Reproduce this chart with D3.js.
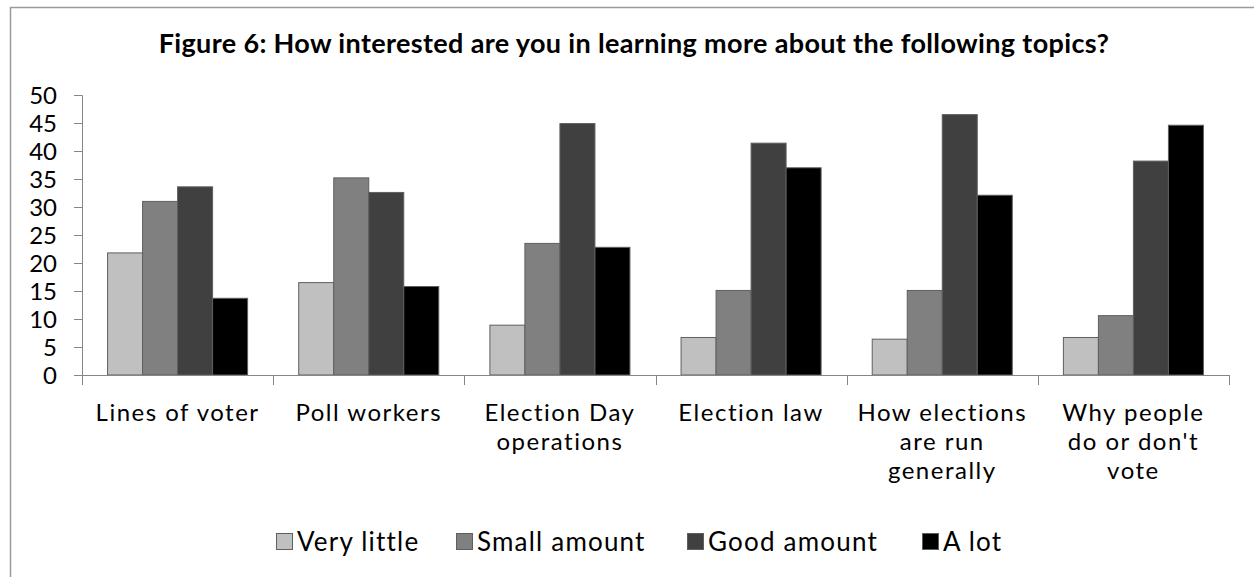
<!DOCTYPE html>
<html>
<head>
<meta charset="utf-8">
<script src="https://cdn.jsdelivr.net/npm/d3@7"></script>
<style>
  html, body { margin: 0; padding: 0; background: #fff; }
  svg { display: block; }
  text { font-family: Lato, "Open Sans", sans-serif; fill: #000; }
</style>
</head>
<body>
<svg id="chart" width="1254" height="577"></svg>
<script>
// Survey topics (x categories)
const categories = [
  ["Lines of voter"],
  ["Poll workers"],
  ["Election Day", "operations"],
  ["Election law"],
  ["How elections", "are run", "generally"],
  ["Why people", "do or don't", "vote"]
];
// Response levels (series)
const seriesNames = ["Very little", "Small amount", "Good amount", "A lot"];
const seriesColors = ["#c0c0c0", "#808080", "#404040", "#000000"];
// Percent of respondents per topic, one array per response level
const veryLittle  = [21.8, 16.5, 8.9, 6.7, 6.4, 6.7];
const smallAmount = [31.0, 35.2, 23.5, 15.1, 15.1, 10.6];
const goodAmount  = [33.6, 32.6, 44.9, 41.4, 46.5, 38.2];
const aLot        = [13.7, 15.8, 22.8, 37.0, 32.1, 44.6];
const yTicks = [0, 5, 10, 15, 20, 25, 30, 35, 40, 45, 50];
const titleText = "Figure 6: How interested are you in learning more about the following topics?";

const seriesValues = [veryLittle, smallAmount, goodAmount, aLot];

const svg = d3.select("#chart");

// chart frame
svg.append("rect")
  .attr("x", 10.5).attr("y", 7.5)
  .attr("width", 1400).attr("height", 700)
  .attr("fill", "none")
  .attr("stroke", "#9a9a9a")
  .attr("stroke-width", 1.5);

// title
svg.append("text")
  .attr("x", 634).attr("y", 53)
  .attr("text-anchor", "middle")
  .style("font-size", "27px")
  .style("font-weight", "bold")
  .style("letter-spacing", "0.35px")
  .text(titleText);

const plot = { left: 82, right: 1229, top: 95, bottom: 375 };

const x0 = d3.scaleBand()
  .domain(d3.range(categories.length))
  .range([plot.left, plot.right])
  .paddingInner(0).paddingOuter(0);

const x1 = d3.scaleBand()
  .domain(d3.range(seriesNames.length))
  .range([0, x0.bandwidth()])
  .paddingInner(0).paddingOuter(0.73);

const y = d3.scaleLinear().domain([0, 50]).range([plot.bottom, plot.top]);

// y axis
const yAxis = svg.append("g")
  .attr("transform", `translate(${plot.left},0)`)
  .call(d3.axisLeft(y).tickValues(yTicks).tickSize(8).tickPadding(17).tickFormat(d3.format("d")));
yAxis.select(".domain").attr("stroke", "#868686");
yAxis.selectAll(".tick line").attr("stroke", "#868686");
yAxis.selectAll(".tick text")
  .attr("fill", "#000")
  .style("font-size", "24px")
  .style("font-family", "Lato, sans-serif")
  .attr("dy", "0.36em");

// bars
const groups = svg.append("g").selectAll("g")
  .data(categories)
  .join("g")
  .attr("transform", (d, i) => `translate(${x0(i)},0)`);

groups.selectAll("rect")
  .data((d, i) => seriesValues.map((vals, s) => ({ s, v: vals[i] })))
  .join("rect")
  .attr("x", d => x1(d.s))
  .attr("y", d => y(d.v))
  .attr("width", x1.bandwidth())
  .attr("height", d => y(0) - y(d.v))
  .attr("fill", d => seriesColors[d.s])
  .attr("stroke", "#5f5f5f")
  .attr("stroke-width", 1);

// x axis line and category separators
svg.append("line")
  .attr("x1", plot.left).attr("x2", plot.right)
  .attr("y1", plot.bottom + 0.5).attr("y2", plot.bottom + 0.5)
  .attr("stroke", "#868686");
const bounds = d3.range(categories.length + 1).map(i =>
  i < categories.length ? x0(i) : x0(categories.length - 1) + x0.bandwidth());
svg.append("g").selectAll("line")
  .data(bounds)
  .join("line")
  .attr("x1", d => Math.round(d) + 0.5).attr("x2", d => Math.round(d) + 0.5)
  .attr("y1", plot.bottom).attr("y2", plot.bottom + 10)
  .attr("stroke", "#868686");

// category labels
const catLabels = svg.append("g").selectAll("text")
  .data(categories)
  .join("text")
  .attr("x", (d, i) => x0(i) + x0.bandwidth() / 2)
  .attr("y", 421)
  .attr("text-anchor", "middle")
  .style("font-size", "24px")
  .style("letter-spacing", "1.5px");
catLabels.selectAll("tspan")
  .data(d => d)
  .join("tspan")
  .attr("x", function () { return d3.select(this.parentNode).attr("x"); })
  .attr("dy", (d, i) => i === 0 ? 0 : 29)
  .text(d => d);

// legend
const legendX = [276, 456, 687, 922];
const legend = svg.append("g").selectAll("g")
  .data(seriesNames)
  .join("g")
  .attr("transform", (d, i) => `translate(${legendX[i]},0)`);
legend.append("rect")
  .attr("x", 0.5).attr("y", 533.5)
  .attr("width", 16).attr("height", 16)
  .attr("fill", (d, i) => seriesColors[i])
  .attr("stroke", "#5f5f5f");
legend.append("text")
  .attr("x", 21).attr("y", 551)
  .style("font-size", "26px")
  .style("letter-spacing", "1.2px")
  .text(d => d);
</script>
</body>
</html>
